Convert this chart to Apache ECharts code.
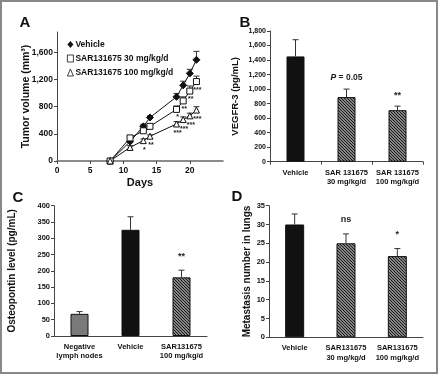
<!DOCTYPE html>
<html>
<head>
<meta charset="utf-8">
<script src="https://cdn.jsdelivr.net/npm/echarts@6/dist/echarts.min.js"></script>
<style>
  html, body { margin: 0; padding: 0; background: #fff; }
  #chart { width: 440px; height: 376px; }
</style>
</head>
<body>
<div id="chart"></div>
<script>
// panel A - tumor volume over time
const days = [8, 11, 13, 14, 18, 19, 20, 21]
const vehicleA = [0, 285, 510, 640, 945, 1115, 1290, 1490]
const vehicleAErr = [0, 30, 30, 25, 50, 60, 60, 125]
const dose30A = [0, 340, 445, 510, 760, 885, 1030, 1170]
const dose30AErr = [0, 20, 20, 20, 50, 60, 75, 80]
const dose100A = [0, 200, 300, 365, 545, 610, 665, 750]
const dose100AErr = [0, 25, 25, 20, 35, 40, 40, 50]
const sig30A = ['', '', '', '', '*', '**', '**', '***']
const sig100A = ['', '', '*', '**', '***', '***', '***', '***']

// panel B - VEGFR-3
const catsB = ['Vehicle', 'SAR 131675\n30 mg/kg/d', 'SAR 131675\n100 mg/kg/d']
const valuesB = [1450, 890, 710]
const errB = [230, 110, 55]
const sigB = ['', 'P', '**']

// panel C - osteopontin
const catsC = ['Negative\nlymph nodes', 'Vehicle', 'SAR131675\n100 mg/kg/d']
const valuesC = [68, 326, 180]
const errC = [7, 40, 22]
const sigC = ['', '', '**']

// panel D - lung metastasis
const catsD = ['Vehicle', 'SAR131675\n30 mg/kg/d', 'SAR131675\n100 mg/kg/d']
const valuesD = [30, 25, 21.6]
const errD = [2.8, 2.5, 2.0]
const sigD = ['', 'ns', '*']

const FONT = '"Liberation Sans", Arial, sans-serif'
const AXIS_COLOR = '#444'

function hatch() {
    const n = 3
    const c = document.createElement('canvas')
    c.width = n
    c.height = n
    const g = c.getContext('2d')
    g.fillStyle = '#fff'
    g.fillRect(0, 0, n, n)
    g.strokeStyle = '#1a1a1a'
    g.lineWidth = 1.5
    g.beginPath()
    g.moveTo(-1, -1); g.lineTo(n + 1, n + 1)
    g.moveTo(n - 1, -1); g.lineTo(n + 1, 1)
    g.moveTo(-1, n - 1); g.lineTo(1, n + 1)
    g.stroke()
    return { image: c, repeat: 'repeat' }
}
const HATCH = hatch()
const BLACK = '#111'
const GREY = '#7a7a7a'

const fmt = v => v.toLocaleString('en-US')

function valueAxis(grid, max, interval, fontSize, name, nameGap, nameSize) {
    return {
        type: 'value', gridIndex: grid, min: 0, max: max, interval: interval,
        name: name, nameLocation: 'middle', nameGap: nameGap, nameMoveOverlap: false,
        nameTextStyle: { fontFamily: FONT, fontWeight: 'bold', fontSize: nameSize, color: '#111' },
        axisLine: { show: true, lineStyle: { color: AXIS_COLOR } },
        axisTick: { show: true, length: 3, lineStyle: { color: AXIS_COLOR } },
        axisLabel: { fontFamily: FONT, fontWeight: 'bold', fontSize: fontSize, color: '#111', margin: 4, formatter: fmt, showMaxLabel: max % interval === 0 },
        splitLine: { show: false }
    }
}

function catAxis(grid, cats, showTick) {
    return {
        type: 'category', gridIndex: grid, data: cats,
        axisLine: { lineStyle: { color: AXIS_COLOR } },
        axisTick: { show: showTick, length: 3, lineStyle: { color: AXIS_COLOR } },
        axisLabel: { fontFamily: FONT, fontWeight: 'bold', fontSize: 7.5, color: '#111', margin: 6, lineHeight: 9.5, interval: 0 }
    }
}

// error bar (upward whisker with cap), shared by all panels
function errSeries(xi, xs, vals, errs, z) {
    return {
        type: 'custom', xAxisIndex: xi, yAxisIndex: xi, z: z || 3, silent: true,
        data: vals.map((v, i) => [xs ? xs[i] : i, v, errs[i]]),
        renderItem(params, api) {
            const e = api.value(2)
            if (!e) return null
            const p0 = api.coord([api.value(0), api.value(1)])
            const p1 = api.coord([api.value(0), api.value(1) + e])
            const st = { stroke: '#333', lineWidth: 1 }
            return {
                type: 'group', children: [
                    { type: 'line', shape: { x1: p0[0], y1: p0[1], x2: p1[0], y2: p1[1] }, style: st },
                    { type: 'line', shape: { x1: p1[0] - 3, y1: p1[1], x2: p1[0] + 3, y2: p1[1] }, style: st }
                ]
            }
        }
    }
}

// significance marks
function sigSeries(xi, xs, vals, marks, dx, dy, size) {
    return {
        type: 'custom', xAxisIndex: xi, yAxisIndex: xi, z: 5, silent: true,
        data: vals.map((v, i) => [xs ? xs[i] : i, v]),
        renderItem(params, api) {
            const m = marks[params.dataIndex]
            if (!m) return null
            const p = api.coord([api.value(0), api.value(1)])
            const isP = m === 'P'
            return {
                type: 'text', x: p[0] + dx, y: p[1] + dy,
                style: {
                    text: isP ? '{i|P} = 0.05' : m,
                    rich: { i: { fontStyle: 'italic', fontWeight: 'bold', fontFamily: FONT, fontSize: 8.5, fill: '#111' } },
                    fontFamily: FONT, fontWeight: 'bold', fontSize: isP ? 8.5 : size,
                    fill: '#222', align: 'center', verticalAlign: 'middle'
                }
            }
        }
    }
}

function barItems(vals, colors) {
    return vals.map((v, i) => ({ value: v, itemStyle: { color: colors[i], borderColor: '#111', borderWidth: 1 } }))
}

const chart = echarts.init(document.getElementById('chart'), null, { renderer: 'canvas' })

const seriesA = (name, vals, symbol, fill) => ({
    type: 'line', name: name, xAxisIndex: 0, yAxisIndex: 0, z: 4,
    data: days.map((d, i) => [d, vals[i]]),
    symbol: symbol, symbolSize: symbol === 'diamond' ? 7 : 6,
    lineStyle: { color: '#111', width: 1 },
    itemStyle: { color: fill, borderColor: '#111', borderWidth: 1 }
})

chart.setOption({
    backgroundColor: '#fff',
    animation: false,
    textStyle: { fontFamily: FONT },
    grid: [
        { left: 57, top: 32, width: 166, height: 129, outerBoundsMode: 'none' },
        { left: 270, top: 31, width: 153, height: 130.7, outerBoundsMode: 'none' },
        { left: 54, top: 205.7, width: 153, height: 130.3, outerBoundsMode: 'none' },
        { left: 269, top: 205.7, width: 154, height: 131.6, outerBoundsMode: 'none' }
    ],
    xAxis: [
        {
            type: 'value', gridIndex: 0, min: 0, max: 25, interval: 5,
            name: 'Days', nameLocation: 'middle', nameGap: 16,
            nameTextStyle: { fontFamily: FONT, fontWeight: 'bold', fontSize: 11, color: '#111' },
            axisLine: { show: true, lineStyle: { color: '#666', width: 1.5 } },
            axisTick: { show: true, length: 3, lineStyle: { color: AXIS_COLOR } },
            axisLabel: { fontFamily: FONT, fontWeight: 'bold', fontSize: 8.5, color: '#111', margin: 5, showMaxLabel: false },
            splitLine: { show: false }
        },
        catAxis(1, catsB, true),
        catAxis(2, catsC, false),
        catAxis(3, catsD, false)
    ],
    yAxis: [
        valueAxis(0, 1900, 400, 8.5, 'Tumor volume (mm³)', 25, 10.5),
        valueAxis(1, 1800, 200, 7, 'VEGFR-3 (pg/mL)', 30, 9.5),
        valueAxis(2, 400, 50, 7.5, 'Osteopontin level (pg/mL)', 37, 10),
        valueAxis(3, 35, 5, 7.5, 'Metastasis number in lungs', 17, 10)
    ],
    legend: {
        left: 62, top: 35, orient: 'vertical', itemWidth: 6, itemHeight: 7, itemGap: 5,
        selectedMode: false,
        textStyle: { fontFamily: FONT, fontWeight: 'bold', fontSize: 8.5, color: '#111', padding: [0, 0, 0, -3] },
        data: [
            { name: 'Vehicle', icon: 'diamond', itemStyle: { borderWidth: 0 } },
            { name: 'SAR131675 30 mg/kg/d', icon: 'rect', itemStyle: { borderWidth: 0.8 } },
            { name: 'SAR131675 100 mg/kg/d', icon: 'triangle', itemStyle: { borderWidth: 0.8 } }
        ]
    },
    series: [
        errSeries(0, days, vehicleA, vehicleAErr, 3),
        errSeries(0, days, dose30A, dose30AErr, 3),
        errSeries(0, days, dose100A, dose100AErr, 3),
        seriesA('Vehicle', vehicleA, 'diamond', '#111'),
        seriesA('SAR131675 30 mg/kg/d', dose30A, 'rect', '#fff'),
        seriesA('SAR131675 100 mg/kg/d', dose100A, 'triangle', '#fff'),
        sigSeries(0, days, dose30A, sig30A, 1, 8, 7),
        sigSeries(0, days, dose100A, sig100A, 1, 9, 7),

        { type: 'bar', xAxisIndex: 1, yAxisIndex: 1, barWidth: 18, data: barItems(valuesB, [BLACK, HATCH, HATCH]) },
        errSeries(1, null, valuesB, errB),
        sigSeries(1, null, valuesB.map((v, i) => v + errB[i]), sigB, 0, -11, 9),

        { type: 'bar', xAxisIndex: 2, yAxisIndex: 2, barWidth: 18, data: barItems(valuesC, [GREY, BLACK, HATCH]) },
        errSeries(2, null, valuesC, errC),
        sigSeries(2, null, valuesC.map((v, i) => v + errC[i]), sigC, 0, -14, 9),

        { type: 'bar', xAxisIndex: 3, yAxisIndex: 3, barWidth: 19, data: barItems(valuesD, [BLACK, HATCH, HATCH]) },
        errSeries(3, null, valuesD, errD),
        sigSeries(3, null, valuesD.map((v, i) => v + errD[i]), sigD, 0, -14, 9)
    ],
    graphic: [
        { type: 'rect', shape: { x: 1, y: 1, width: 436, height: 372 }, style: { fill: null, stroke: '#888', lineWidth: 2 }, silent: true },
        { type: 'text', x: 25, y: 23, style: { text: 'A', fontFamily: FONT, fontWeight: 'bold', fontSize: 15, fill: '#111', align: 'center', verticalAlign: 'middle' } },
        { type: 'text', x: 245, y: 23, style: { text: 'B', fontFamily: FONT, fontWeight: 'bold', fontSize: 15, fill: '#111', align: 'center', verticalAlign: 'middle' } },
        { type: 'text', x: 18, y: 198, style: { text: 'C', fontFamily: FONT, fontWeight: 'bold', fontSize: 15, fill: '#111', align: 'center', verticalAlign: 'middle' } },
        { type: 'text', x: 237, y: 197, style: { text: 'D', fontFamily: FONT, fontWeight: 'bold', fontSize: 15, fill: '#111', align: 'center', verticalAlign: 'middle' } }
    ]
})
</script>
</body>
</html>
